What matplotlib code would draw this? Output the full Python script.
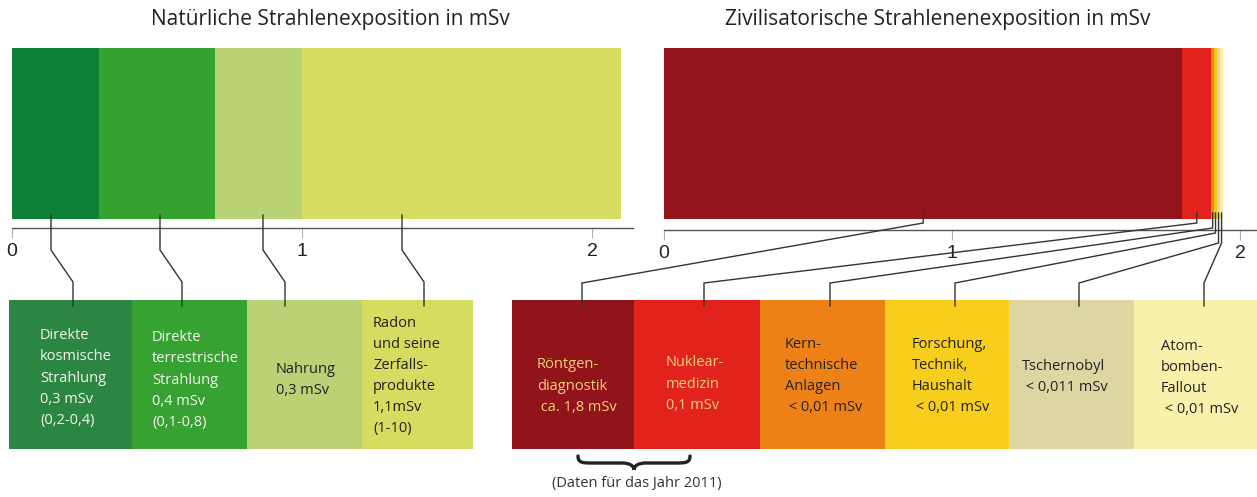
import matplotlib
matplotlib.use("Agg")
import matplotlib.pyplot as plt
from matplotlib.patches import Rectangle, PathPatch
from matplotlib.path import Path

# ---- data ----
nat_title = "Natürliche Strahlenexposition in mSv"
nat_values = [0.3, 0.4, 0.3, 1.1]
nat_labels = ["Direkte\nkosmische\nStrahlung\n0,3 mSv\n(0,2-0,4)",
              "Direkte\nterrestrische\nStrahlung\n0,4 mSv\n(0,1-0,8)",
              "Nahrung\n0,3 mSv",
              "Radon\nund seine\nZerfalls-\nprodukte\n1,1mSv\n(1-10)"]

civ_title = "Zivilisatorische Strahlenenexposition in mSv"
civ_values = [1.8, 0.1, 0.01, 0.01, 0.011, 0.01]
civ_labels = ["Röntgen-\ndiagnostik\n ca. 1,8 mSv",
              "Nuklear-\nmedizin\n0,1 mSv",
              "Kern-\ntechnische\nAnlagen\n < 0,01 mSv",
              "Forschung,\nTechnik,\nHaushalt\n < 0,01 mSv",
              "Tschernobyl\n < 0,011 mSv",
              "Atom-\nbomben-\nFallout\n < 0,01 mSv"]

tick_vals = [0, 1, 2]
note = "(Daten für das Jahr 2011)"

# ---- styles ----
nat_bar_colors = ["#0c8035", "#33a22f", "#b9d275", "#d6dc5f"]
nat_box_colors = ["#2a8641", "#35a232", "#b9d275", "#d6dc5f"]
nat_txt_colors = ["#f4f4ee", "#f4f4ee", "#222222", "#222222"]
civ_bar_colors = ["#93141b", "#e2231d", "#ef8519", "#f6c81e", "#e0d8a2", "#f8f1ab"]
civ_box_colors = ["#92141b", "#e2231d", "#ed8118", "#f7ce1b", "#ddd6a2", "#f8f1ab"]
civ_txt_colors = ["#ecd27a", "#ecd27a", "#222222", "#222222", "#222222", "#222222"]

FONT = "Open Sans"
W, H = 1257, 497

fig = plt.figure(figsize=(W / 100, H / 100), dpi=100)


def px_rect(x0, y0, x1, y1):
    return [x0 / W, 1 - y1 / H, (x1 - x0) / W, (y1 - y0) / H]


def stacked_bar(x0, x1, axis_y, px_per_unit, values, colors):
    ax = fig.add_axes(px_rect(x0, 48, x1, axis_y))
    bar_bot = (axis_y - 219) / (axis_y - 48)
    left = 0
    for v, c in zip(values, colors):
        ax.barh(bar_bot + (1 - bar_bot) / 2, v, left=left, height=1 - bar_bot,
                color=c, linewidth=0)
        left += v
    ax.set_xlim(0, (x1 - x0) / px_per_unit)
    ax.set_ylim(0, 1)
    for s in ["left", "right", "top"]:
        ax.spines[s].set_visible(False)
    ax.spines["bottom"].set_color("#555555")
    ax.spines["bottom"].set_linewidth(1.0)
    ax.set_yticks([])
    ax.set_xticks(tick_vals)
    ax.set_xticklabels([str(t) for t in tick_vals], fontfamily="Liberation Sans")
    ax.tick_params(axis="x", length=7, width=0.8, color="#b0b0b0", pad=4,
                   labelsize=14, labelcolor="#222222")
    ax.patch.set_alpha(0)
    return ax


ax_nat = stacked_bar(12, 633, 228, 290, nat_values, nat_bar_colors)
ax_civ = stacked_bar(664, 1257, 230, 288, civ_values, civ_bar_colors)

# overlay in pixel coordinates for titles, boxes and leader lines
ov = fig.add_axes([0, 0, 1, 1])
ov.set_xlim(0, W)
ov.set_ylim(H, 0)
ov.axis("off")

ov.text(330, 20, nat_title, ha="center", va="center", fontsize=15,
        family=FONT, color="#222222")
ov.text(938, 20, civ_title, ha="center", va="center", fontsize=15,
        family=FONT, color="#222222")

box_top, box_bot = 300, 449
nat_edges = [9, 132, 247, 362, 473]
civ_edges = [512, 634, 760, 885, 1009, 1134, 1257]
nat_txt_dx = [31, 20, 29, 11]
civ_txt_dx = [25, 32, 25, 27, 13, 27]
nat_txt_y = [378, 380, 380, 376]
civ_txt_y = [386, 384, 376, 376, 377, 378]


def boxes(edges, colors, labels, tcolors, dxs, ys):
    for i, lab in enumerate(labels):
        x0, x1 = edges[i], edges[i + 1]
        ov.add_patch(Rectangle((x0, box_top), x1 - x0, box_bot - box_top,
                               facecolor=colors[i], edgecolor="none", zorder=1))
        ov.text(x0 + dxs[i], ys[i], lab, ha="left", va="center", fontsize=10.5,
                family=FONT, color=tcolors[i], linespacing=1.55, zorder=3)


boxes(nat_edges, nat_box_colors, nat_labels, nat_txt_colors, nat_txt_dx, nat_txt_y)
boxes(civ_edges, civ_box_colors, civ_labels, civ_txt_colors, civ_txt_dx, civ_txt_y)

line_kw = dict(color="#333333", lw=1.0, zorder=4, solid_joinstyle="miter")

# leader lines, natural side
nat_box_x = [73, 182, 285, 424]
for xs in nat_box_x:
    xb = xs - 22
    ov.plot([xb, xb, xs, xs], [215, 250, 282, 306], **line_kw)

# leader lines, civil side: start at the segment centres
civ_elbow = [223, 223, 228, 233, 243, 243]
left = 0
for i, v in enumerate(civ_values):
    xb = ax_civ.transData.transform((left + v / 2, 0))[0]
    left += v
    xs = civ_edges[i] + 70
    ov.plot([xb, xb, xs, xs], [213, civ_elbow[i], 283, 306], **line_kw)

# curly brace under the first two boxes
bl, br, bm = 578, 690, 634
verts = [(bl, 456), (bl, 463), (bl + 5, 463), (bl + 14, 463),
         (bm - 12, 463),
         (bm - 4, 463), (bm, 466), (bm, 470),
         (bm, 466), (bm + 4, 463), (bm + 12, 463),
         (br - 14, 463),
         (br - 5, 463), (br, 463), (br, 456)]
codes = [Path.MOVETO, Path.CURVE4, Path.CURVE4, Path.CURVE4,
         Path.LINETO,
         Path.CURVE4, Path.CURVE4, Path.CURVE4,
         Path.CURVE4, Path.CURVE4, Path.CURVE4,
         Path.LINETO,
         Path.CURVE4, Path.CURVE4, Path.CURVE4]
ov.add_patch(PathPatch(Path(verts, codes), facecolor="none", edgecolor="#222222",
                       lw=2.4, capstyle="round", zorder=4))
ov.text(637, 483, note, ha="center", va="center", fontsize=10.5, family=FONT,
        color="#333333")

fig.savefig("out.png", dpi=100)
